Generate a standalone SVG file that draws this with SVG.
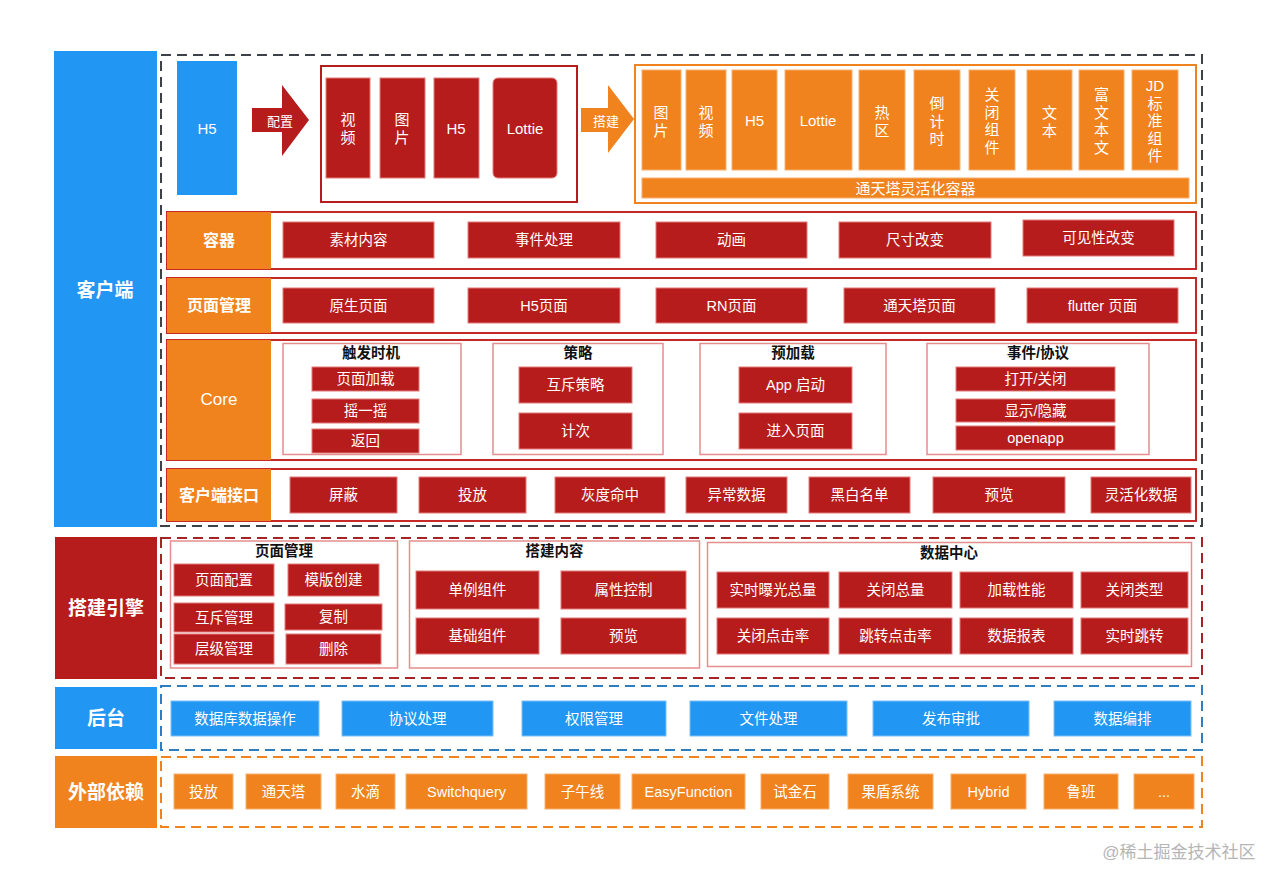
<svg xmlns="http://www.w3.org/2000/svg" width="1283" height="887" viewBox="0 0 1283 887">
<style>
.r{fill:#B71C1C;stroke:#E27A7A;stroke-width:1}
.o{fill:#F0831E;stroke:#F7B06E;stroke-width:1}
.b{fill:#2196F3;stroke:#7CC0F7;stroke-width:1}
.t,.t tspan{font-family:"Liberation Sans","Noto Sans CJK SC",sans-serif;font-size:14.5px;fill:#fff;text-anchor:middle;dominant-baseline:central}
.v,.v tspan{font-size:15px}
.lab{font-size:16px;font-weight:bold}
.big{font-size:19px;font-weight:bold}
.gt{fill:#111;font-weight:bold;font-size:14.5px}
.row{fill:#fff;stroke:#C62828;stroke-width:2}
.grp{fill:none;stroke:#E58E8E;stroke-width:1.5}
.dash{fill:none;stroke-width:2;stroke-dasharray:10 6}
</style>
<rect width="1283" height="887" fill="#fff"/>

<!-- left labels -->
<g id="lbl-client"><rect x="54" y="51" width="103" height="476" fill="#2196F3"/><text class="t big" x="105" y="290">客户端</text></g>
<g id="lbl-engine"><rect x="55" y="537" width="102" height="142" fill="#B71C1C"/><text class="t big" x="106" y="608">搭建引擎</text></g>
<g id="lbl-backend"><rect x="55" y="687" width="102" height="62" fill="#2196F3"/><text class="t big" x="106" y="718">后台</text></g>
<g id="lbl-external"><rect x="55" y="756" width="102" height="72" fill="#F0831E"/><text class="t big" x="106" y="792">外部依赖</text></g>

<!-- dashed zones -->
<g id="zone-client"><rect class="dash" x="161" y="55" width="1041" height="471" stroke="#3D4248"/></g>
<g id="zone-engine"><rect class="dash" x="161" y="538" width="1041" height="140" stroke="#A82424"/></g>
<g id="zone-backend"><rect class="dash" x="161" y="686" width="1041" height="64" stroke="#2C7DC6"/></g>
<g id="zone-external"><rect class="dash" x="161" y="757" width="1041" height="70" stroke="#F0831E"/></g>

<!-- top row -->
<g id="h5-src"><rect x="177" y="61" width="60" height="134" fill="#2196F3"/><text class="t v" x="207" y="128">H5</text></g>
<g id="material-box">
<rect x="321" y="66" width="256" height="136" fill="none" stroke="#B71C1C" stroke-width="2"/>
<rect class="r" x="326" y="78" width="44" height="100"/><text class="t v"><tspan x="348" y="119">视</tspan><tspan x="348" y="137">频</tspan></text>
<rect class="r" x="380" y="78" width="45" height="100"/><text class="t v"><tspan x="402" y="119">图</tspan><tspan x="402" y="137">片</tspan></text>
<rect class="r" x="434" y="78" width="45" height="100"/><text class="t v" x="456" y="128">H5</text>
<rect class="r" x="493" y="78" width="64" height="100" rx="5"/><text class="t v" x="525" y="128">Lottie</text>
</g>
<g id="ttt-container">
<rect x="635" y="65" width="561" height="138" fill="none" stroke="#F0831E" stroke-width="2"/>
<rect class="o" x="642" y="70" width="39" height="100"/><text class="t v"><tspan x="661" y="112">图</tspan><tspan x="661" y="130">片</tspan></text>
<rect class="o" x="686" y="70" width="40" height="100"/><text class="t v"><tspan x="706" y="112">视</tspan><tspan x="706" y="130">频</tspan></text>
<rect class="o" x="732" y="70" width="45" height="100"/><text class="t v" x="754.5" y="120">H5</text>
<rect class="o" x="785" y="70" width="67" height="100"/><text class="t v" x="818" y="120">Lottie</text>
<rect class="o" x="859" y="70" width="46" height="100"/><text class="t v"><tspan x="882" y="112">热</tspan><tspan x="882" y="130">区</tspan></text>
<rect class="o" x="914" y="70" width="46" height="100"/><text class="t v"><tspan x="937" y="103">倒</tspan><tspan x="937" y="120.5">计</tspan><tspan x="937" y="138">时</tspan></text>
<rect class="o" x="969" y="70" width="46" height="100"/><text class="t v"><tspan x="992" y="94">关</tspan><tspan x="992" y="111.5">闭</tspan><tspan x="992" y="129">组</tspan><tspan x="992" y="146.5">件</tspan></text>
<rect class="o" x="1027" y="70" width="45" height="100"/><text class="t v"><tspan x="1049.5" y="112">文</tspan><tspan x="1049.5" y="130">本</tspan></text>
<rect class="o" x="1079" y="70" width="45" height="100"/><text class="t v"><tspan x="1101.5" y="94">富</tspan><tspan x="1101.5" y="111.5">文</tspan><tspan x="1101.5" y="129">本</tspan><tspan x="1101.5" y="146.5">文</tspan></text>
<rect class="o" x="1132" y="70" width="46" height="100"/><text class="t v"><tspan x="1155" y="85">JD</tspan><tspan x="1155" y="102.5">标</tspan><tspan x="1155" y="120">准</tspan><tspan x="1155" y="137.5">组</tspan><tspan x="1155" y="155">件</tspan></text>
<rect class="o" x="642" y="178" width="547" height="20"/><text class="t v" x="915.5" y="188">通天塔灵活化容器</text>
</g>

<!-- connectors -->
<g id="connectors">
<g id="arrow-config"><polygon points="252,108 282,108 282,85 309,120 282,156 282,132 252,132" fill="#B71C1C"/><text class="t" style="font-size:13px" x="280" y="121">配置</text></g>
<g id="arrow-build"><polygon points="581,108 608,108 608,85 634,119 608,153 608,132 581,132" fill="#F0831E"/><text class="t" style="font-size:13px" x="606" y="121">搭建</text></g>
</g>

<!-- 容器 row -->
<g id="row-container">
<rect class="row" x="167" y="212" width="1029" height="57"/>
<rect x="167" y="212" width="104" height="57" fill="#F0831E"/><text class="t lab" x="219" y="240.5">容器</text>
<rect class="r" x="283" y="222" width="151" height="36"/><text class="t" x="358.5" y="240">素材内容</text>
<rect class="r" x="468" y="222" width="152" height="36"/><text class="t" x="544" y="240">事件处理</text>
<rect class="r" x="656" y="222" width="151" height="36"/><text class="t" x="731.5" y="240">动画</text>
<rect class="r" x="839" y="222" width="152" height="36"/><text class="t" x="915" y="240">尺寸改变</text>
<rect class="r" x="1023" y="220" width="151" height="36"/><text class="t" x="1098.5" y="238">可见性改变</text>
</g>

<!-- 页面管理 row -->
<g id="row-page">
<rect class="row" x="167" y="278" width="1029" height="55"/>
<rect x="167" y="278" width="104" height="55" fill="#F0831E"/><text class="t lab" x="219" y="305.5">页面管理</text>
<rect class="r" x="283" y="288" width="151" height="35"/><text class="t" x="358.5" y="305.5">原生页面</text>
<rect class="r" x="468" y="288" width="152" height="35"/><text class="t" x="544" y="305.5">H5页面</text>
<rect class="r" x="656" y="288" width="151" height="35"/><text class="t" x="731.5" y="305.5">RN页面</text>
<rect class="r" x="844" y="288" width="151" height="35"/><text class="t" x="919.5" y="305.5">通天塔页面</text>
<rect class="r" x="1027" y="288" width="151" height="35"/><text class="t" x="1102.5" y="305.5">flutter 页面</text>
</g>

<!-- Core row -->
<g id="row-core">
<rect class="row" x="167" y="340" width="1029" height="120"/>
<rect x="167" y="340" width="104" height="120" fill="#F0831E"/><text class="t lab" style="font-weight:normal;font-size:17px" x="219" y="399">Core</text>
</g>
<g id="core-trigger">
<rect class="grp" x="283" y="343.5" width="178" height="111"/><text class="t gt" x="371" y="353">触发时机</text>
<rect class="r" x="312" y="367" width="107" height="24"/><text class="t" x="365.5" y="379">页面加载</text>
<rect class="r" x="312" y="399" width="107" height="24"/><text class="t" x="365.5" y="411">摇一摇</text>
<rect class="r" x="312" y="429" width="107" height="24"/><text class="t" x="365.5" y="441">返回</text>
</g>
<g id="core-strategy">
<rect class="grp" x="493" y="343.5" width="170" height="111"/><text class="t gt" x="578" y="353">策略</text>
<rect class="r" x="519" y="367" width="113" height="36"/><text class="t" x="575.5" y="385">互斥策略</text>
<rect class="r" x="519" y="413" width="113" height="36"/><text class="t" x="575.5" y="431">计次</text>
</g>
<g id="core-preload">
<rect class="grp" x="700" y="343.5" width="186" height="111"/><text class="t gt" x="793" y="353">预加载</text>
<rect class="r" x="739" y="367" width="113" height="36"/><text class="t" x="795.5" y="385">App 启动</text>
<rect class="r" x="739" y="413" width="113" height="36"/><text class="t" x="795.5" y="431">进入页面</text>
</g>
<g id="core-event">
<rect class="grp" x="927" y="343.5" width="222" height="111"/><text class="t gt" x="1038" y="353">事件/协议</text>
<rect class="r" x="956" y="367" width="159" height="24"/><text class="t" x="1035.5" y="379">打开/关闭</text>
<rect class="r" x="956" y="399" width="159" height="23"/><text class="t" x="1035.5" y="410.5">显示/隐藏</text>
<rect class="r" x="956" y="426" width="159" height="24"/><text class="t" x="1035.5" y="438">openapp</text>
</g>

<!-- 客户端接口 row -->
<g id="row-api">
<rect class="row" x="167" y="469" width="1029" height="52"/>
<rect x="167" y="469" width="104" height="52" fill="#F0831E"/><text class="t lab" x="219" y="495">客户端接口</text>
<rect class="r" x="290" y="477" width="107" height="36"/><text class="t" x="343.5" y="495">屏蔽</text>
<rect class="r" x="419" y="477" width="107" height="36"/><text class="t" x="472.5" y="495">投放</text>
<rect class="r" x="555" y="477" width="110" height="36"/><text class="t" x="610" y="495">灰度命中</text>
<rect class="r" x="686" y="477" width="101" height="36"/><text class="t" x="736.5" y="495">异常数据</text>
<rect class="r" x="809" y="477" width="101" height="36"/><text class="t" x="859.5" y="495">黑白名单</text>
<rect class="r" x="933" y="477" width="132" height="36"/><text class="t" x="999" y="495">预览</text>
<rect class="r" x="1091" y="477" width="100" height="36"/><text class="t" x="1141" y="495">灵活化数据</text>
</g>

<!-- 搭建引擎 -->
<g id="engine-page">
<rect class="grp" x="170.5" y="541" width="227" height="127"/><text class="t gt" x="284" y="551">页面管理</text>
<rect class="r" x="174" y="564" width="100" height="32"/><text class="t" x="224" y="580">页面配置</text>
<rect class="r" x="288" y="564" width="91" height="32"/><text class="t" x="333.5" y="580">模版创建</text>
<rect class="r" x="174" y="603" width="100" height="29"/><text class="t" x="224" y="617.5">互斥管理</text>
<rect class="r" x="285" y="604" width="97" height="26"/><text class="t" x="333.5" y="617">复制</text>
<rect class="r" x="174" y="634" width="100" height="30"/><text class="t" x="224" y="649">层级管理</text>
<rect class="r" x="286" y="634" width="95" height="30"/><text class="t" x="333.5" y="649">删除</text>
</g>
<g id="engine-build">
<rect class="grp" x="409.5" y="541" width="290" height="127"/><text class="t gt" x="554.5" y="551">搭建内容</text>
<rect class="r" x="416" y="571" width="123" height="38"/><text class="t" x="477.5" y="590">单例组件</text>
<rect class="r" x="561" y="571" width="125" height="38"/><text class="t" x="623.5" y="590">属性控制</text>
<rect class="r" x="416" y="618" width="123" height="36"/><text class="t" x="477.5" y="636">基础组件</text>
<rect class="r" x="561" y="618" width="125" height="36"/><text class="t" x="623.5" y="636">预览</text>
</g>
<g id="engine-data">
<rect class="grp" x="707.5" y="542.5" width="484" height="124"/><text class="t gt" x="949" y="553">数据中心</text>
<rect class="r" x="717" y="572" width="112" height="36"/><text class="t" x="773" y="590">实时曝光总量</text>
<rect class="r" x="839" y="572" width="113" height="36"/><text class="t" x="895.5" y="590">关闭总量</text>
<rect class="r" x="960" y="572" width="113" height="36"/><text class="t" x="1016.5" y="590">加载性能</text>
<rect class="r" x="1081" y="572" width="107" height="36"/><text class="t" x="1134.5" y="590">关闭类型</text>
<rect class="r" x="717" y="618" width="112" height="36"/><text class="t" x="773" y="636">关闭点击率</text>
<rect class="r" x="839" y="618" width="113" height="36"/><text class="t" x="895.5" y="636">跳转点击率</text>
<rect class="r" x="960" y="618" width="113" height="36"/><text class="t" x="1016.5" y="636">数据报表</text>
<rect class="r" x="1081" y="618" width="107" height="36"/><text class="t" x="1134.5" y="636">实时跳转</text>
</g>

<!-- 后台 -->
<g id="backend-items">
<rect class="b" x="171" y="701" width="148" height="35"/><text class="t" x="245" y="718.5">数据库数据操作</text>
<rect class="b" x="342" y="701" width="151" height="35"/><text class="t" x="417.5" y="718.5">协议处理</text>
<rect class="b" x="522" y="701" width="144" height="35"/><text class="t" x="594" y="718.5">权限管理</text>
<rect class="b" x="690" y="701" width="157" height="35"/><text class="t" x="768.5" y="718.5">文件处理</text>
<rect class="b" x="873" y="701" width="156" height="35"/><text class="t" x="951" y="718.5">发布审批</text>
<rect class="b" x="1054" y="701" width="137" height="35"/><text class="t" x="1122.5" y="718.5">数据编排</text>
</g>

<!-- 外部依赖 -->
<g id="external-items">
<rect class="o" x="174" y="774" width="59" height="35"/><text class="t" x="203.5" y="791.5">投放</text>
<rect class="o" x="246" y="774" width="75" height="35"/><text class="t" x="283.5" y="791.5">通天塔</text>
<rect class="o" x="336" y="774" width="59" height="35"/><text class="t" x="365.5" y="791.5">水滴</text>
<rect class="o" x="406" y="774" width="121" height="35"/><text class="t" x="466.5" y="791.5">Switchquery</text>
<rect class="o" x="545" y="774" width="75" height="35"/><text class="t" x="582.5" y="791.5">子午线</text>
<rect class="o" x="632" y="774" width="113" height="35"/><text class="t" x="688.5" y="791.5">EasyFunction</text>
<rect class="o" x="761" y="774" width="68" height="35"/><text class="t" x="795" y="791.5">试金石</text>
<rect class="o" x="848" y="774" width="85" height="35"/><text class="t" x="890.5" y="791.5">果盾系统</text>
<rect class="o" x="951" y="774" width="75" height="35"/><text class="t" x="988.5" y="791.5">Hybrid</text>
<rect class="o" x="1044" y="774" width="74" height="35"/><text class="t" x="1081" y="791.5">鲁班</text>
<rect class="o" x="1134" y="774" width="60" height="35"/><text class="t" x="1164" y="791.5">...</text>
</g>

<text class="t" style="fill:#B5B5B5;font-size:17px" x="1179" y="852">@稀土掘金技术社区</text>
</svg>
